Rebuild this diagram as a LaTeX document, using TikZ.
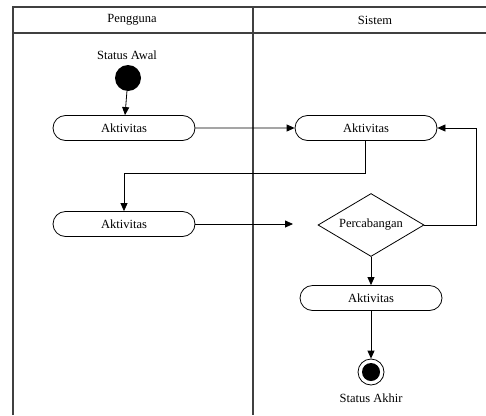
\documentclass[tikz,border=0pt]{standalone}
\usepackage{fontspec}
\setmainfont{Liberation Serif}
\usetikzlibrary{shapes.geometric,shapes.misc,arrows.meta}
\begin{document}
\begin{tikzpicture}[x=1pt,y=-1pt,
  lane/.style={draw=black!75,line width=1.6pt},
  txt/.style={font=\fontsize{12.5}{14}\selectfont},
  act/.style={txt,draw,line width=0.8pt,rounded rectangle,minimum width=142pt,minimum height=25pt,inner sep=0pt},
  dec/.style={txt,draw,line width=0.8pt,diamond,aspect=1.68,minimum width=106pt,minimum height=63pt,inner sep=0pt},
  lbl/.style={txt,inner sep=0pt},
  flow/.style={line width=0.8pt,-{Triangle[length=8pt,width=7pt]}}]
\useasboundingbox (0,0) rectangle (486,415);
% swimlanes
\draw[lane] (13,415) -- (13,7) -- (486,7);
\draw[lane] (13,33) -- (486,33);
\draw[lane] (253,7) -- (253,415);
\node[lbl] (hp) at (132,20) {Pengguna};
\node[lbl] (hs) at (375,20) {Sistem};
% nodes
\node[lbl] (sa) at (127,55) {Status Awal};
\node[circle,fill=black,minimum size=26pt,inner sep=0pt] (start) at (128,78) {};
\node[act] (a1) at (124,128) {Aktivitas};
\node[act] (a2) at (366,128) {Aktivitas};
\node[act] (a3) at (124,224) {Aktivitas};
\node[dec] (d) at (371,225) {Percabangan};
\node[act] (a4) at (371,298) {Aktivitas};
\node[circle,draw,line width=0.8pt,minimum size=26pt,inner sep=0pt] (end) at (371,372) {};
\node[circle,fill=black,minimum size=18pt,inner sep=0pt] (endin) at (end) {};
\node[lbl] (sk) at (371,398) {Status Akhir};
\coordinate (gap) at (293,224);
% flows
\draw[flow] (start) -- (a1);
\draw[flow] (a1) -- (a2);
\draw[flow] (a2.south -| 365,0) |- (124,173) -- (a3.north -| 124,0);
\draw[flow] (a3.east) -- (gap);
\draw[flow] (d.east) -| (476,128) -- (a2.east);
\draw[flow] (d.south) -- (a4.north);
\draw[flow] (a4.south) -- (end.north);
\end{tikzpicture}
\end{document}
